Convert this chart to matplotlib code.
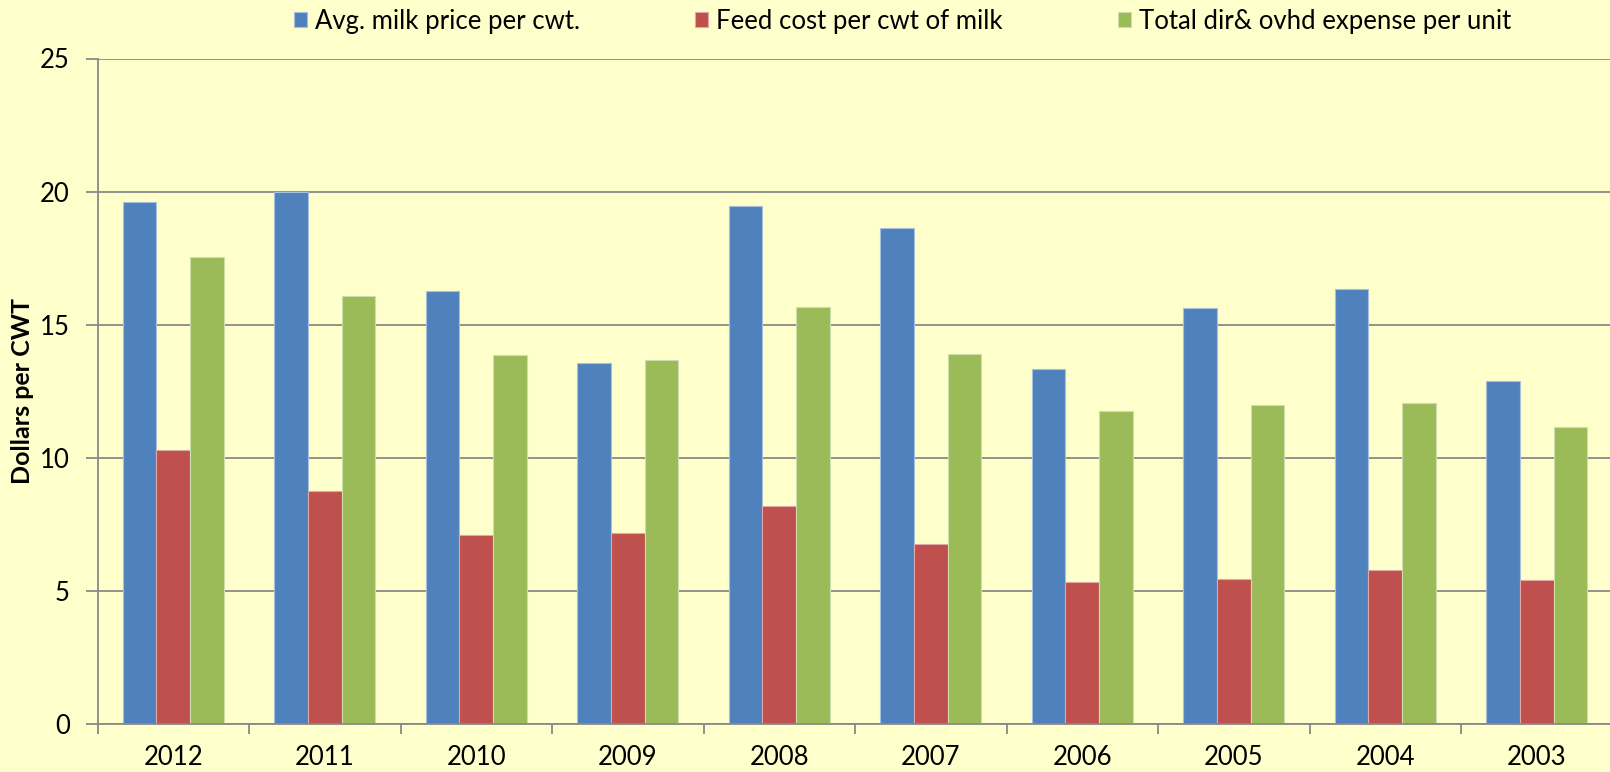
#!/usr/bin/env python3
"""
Dairy cost chart: milk price vs feed cost vs total expense per cwt, 2012-2003
"""

import numpy as np
import matplotlib
matplotlib.use('Agg')
import matplotlib.pyplot as plt
from matplotlib.ticker import MultipleLocator

# Data
years = ['2012', '2011', '2010', '2009', '2008', '2007', '2006', '2005', '2004', '2003']
milk_price = [19.60, 20.00, 16.26, 13.57, 19.45, 18.63, 13.32, 15.64, 16.35, 12.89]
feed_cost = [10.28, 8.74, 7.09, 7.17, 8.19, 6.77, 5.34, 5.44, 5.78, 5.40]
total_expense = [17.54, 16.09, 13.86, 13.69, 15.65, 13.90, 11.75, 11.98, 12.07, 11.17]

series_names = ['Avg. milk price per cwt.',
                'Feed cost per cwt of milk',
                'Total dir& ovhd expense per unit']
colors = ['#4F81BD', '#C0504D', '#9BBB59']
edge_colors = ['#A7C0DE', '#E0A8A6', '#CDDDAC']
background = '#FFFFCC'
grid_gray = '#898989'

plt.rcParams['font.family'] = ['Lato', 'DejaVu Sans']


def main():
    fig = plt.figure(figsize=(16.1, 7.72), dpi=100, facecolor=background)
    ax = fig.add_axes([97.5 / 1610, 48 / 772, 1515 / 1610, 665.5 / 772])
    ax.set_facecolor(background)

    x = np.arange(len(years))
    width = 0.2217
    for i, (vals, name) in enumerate(zip([milk_price, feed_cost, total_expense], series_names)):
        ax.bar(x + (i - 1) * width, vals, width, color=colors[i], label=name,
               edgecolor=edge_colors[i], linewidth=0.8, zorder=3)

    # axes limits and ticks
    ax.set_xlim(-0.5, len(years) - 0.5)
    ax.set_ylim(0, 25)
    ax.yaxis.set_major_locator(MultipleLocator(5))
    ax.set_xticks(x)
    ax.set_xticklabels(years)
    ax.set_xticks(np.arange(len(years) + 1) - 0.5, minor=True)
    ax.tick_params(axis='x', which='major', length=0, pad=15, labelsize=18.5, colors='black')
    ax.tick_params(axis='x', which='minor', length=7, width=1.3, color=grid_gray, direction='out')
    ax.tick_params(axis='y', length=9, width=1.3, color=grid_gray, pad=11, labelsize=18.5)

    ax.grid(axis='y', color=grid_gray, linewidth=1.3, zorder=0)
    ax.set_axisbelow(True)
    for side in ['top', 'right']:
        ax.spines[side].set_visible(False)
    for side in ['left', 'bottom']:
        ax.spines[side].set_color(grid_gray)
        ax.spines[side].set_linewidth(1.3)
        ax.spines[side].set_zorder(4)

    ax.set_ylabel('Dollars per CWT', fontsize=18, fontweight='bold', labelpad=4)

    # legend in one row across the top
    fig.legend(loc='center', bbox_to_anchor=(0.5606, 1 - 21 / 772), ncol=3, frameon=False,
               fontsize=18.5, handlelength=0.5, handleheight=0.5, handletextpad=0.3,
               columnspacing=4.5, borderpad=0)

    fig.savefig('out.png', dpi=100, facecolor=background)
    plt.close(fig)


if __name__ == '__main__':
    main()
